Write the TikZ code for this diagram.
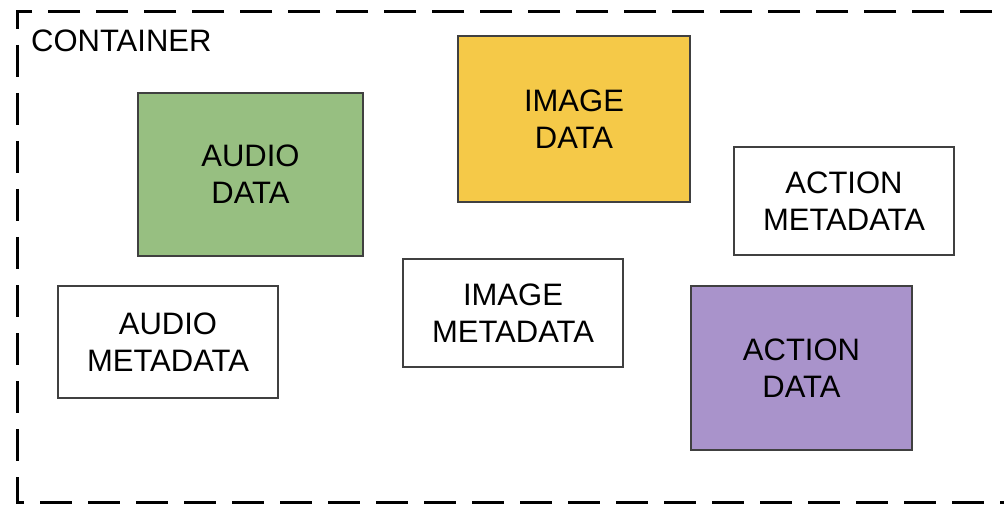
\documentclass[tikz,border=0pt]{standalone}
\usepackage{fontspec}
\setmainfont{Liberation Sans}
\usetikzlibrary{positioning}
\definecolor{audiogreen}{HTML}{97BF81}
\definecolor{imageyellow}{HTML}{F5C948}
\definecolor{actionpurple}{HTML}{A993CB}
\definecolor{boxline}{HTML}{404040}
\tikzset{
    data box/.style={
        draw=boxline,
        line width=1.3pt,
        align=center,
        inner sep=0pt,
        font=\fontsize{31}{37}\selectfont
    },
    container line/.style={
        line width=3pt,
        dash pattern=on 32pt off 16pt
    }
}
\begin{document}
\begin{tikzpicture}[x=1pt,y=-1pt]
    \useasboundingbox (0,0) rectangle (1004,505);
    \draw[container line] (1040,12) -- (17,12) -- (17,502) -- (1040,502);
    \node[anchor=base west,inner sep=0pt,font=\fontsize{31}{37}\selectfont] (container) at (31,52) {CONTAINER};

    \node[data box,fill=audiogreen,minimum width=225pt,minimum height=163pt] (audiodata) at (250.5,174.5) {AUDIO\\DATA};
    \node[data box,fill=imageyellow,minimum width=232pt,minimum height=166pt] (imagedata) at (574,119) {IMAGE\\DATA};
    \node[data box,minimum width=220pt,minimum height=108pt] (actionmeta) at (844,201) {ACTION\\METADATA};
    \node[data box,minimum width=220pt,minimum height=112pt] (audiometa) at (168,342) {AUDIO\\METADATA};
    \node[data box,minimum width=220pt,minimum height=108pt] (imagemeta) at (513,313) {IMAGE\\METADATA};
    \node[data box,fill=actionpurple,minimum width=221pt,minimum height=164pt] (actiondata) at (801.5,368) {ACTION\\DATA};
\end{tikzpicture}
\end{document}
